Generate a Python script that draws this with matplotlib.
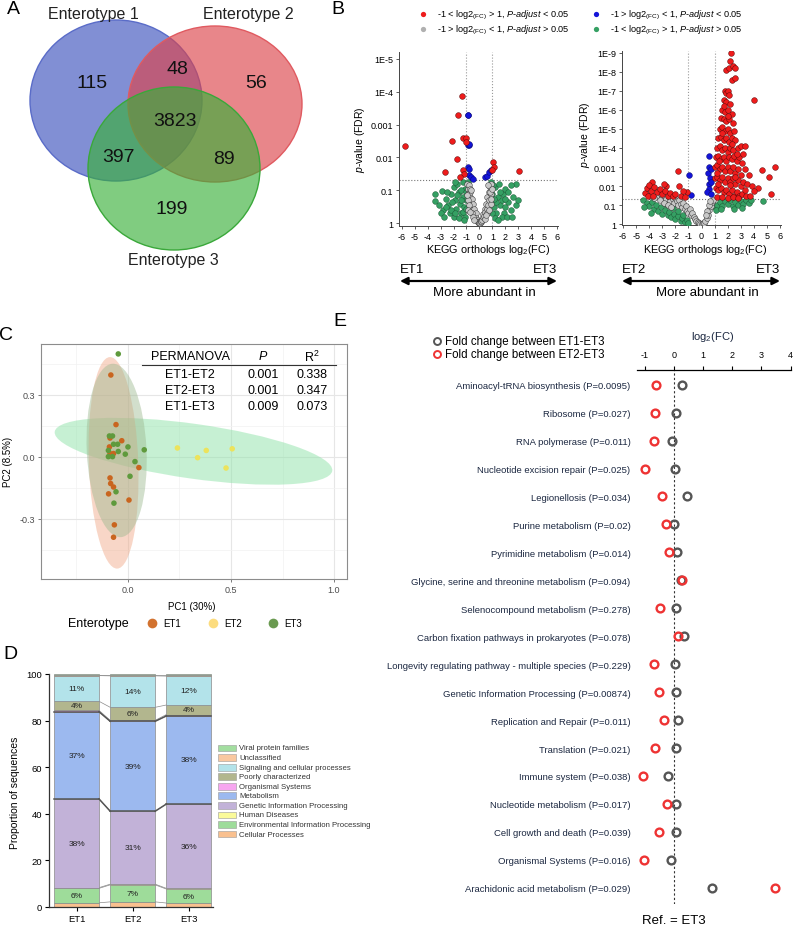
import numpy as np
import matplotlib
matplotlib.use("Agg")
import matplotlib.pyplot as plt
from matplotlib.patches import Ellipse, Rectangle

plt.rcParams['font.family'] = ['Liberation Sans', 'DejaVu Sans']
plt.rcParams['mathtext.fontset'] = 'custom'
plt.rcParams['mathtext.rm'] = 'Liberation Sans'
plt.rcParams['mathtext.it'] = 'Liberation Sans:italic'

# ---------------- data ----------------
# A: Venn counts
venn_sets = ["Enterotype 1", "Enterotype 2", "Enterotype 3"]
venn_regions = ["only1", "1&2", "only2", "all", "1&3", "2&3", "only3"]
venn_counts = [115, 48, 56, 3823, 397, 89, 199]

# B: volcano plots, (log2FC, -log10 p)
red_L = [(-5.76, 2.36), (-1.34, 3.87), (-1.69, 3.30), (-2.12, 2.50), (-1.24, 2.58), (-1.02, 2.58),
         (-1.05, 2.48), (-1.74, 1.94), (-2.63, 1.57), (-1.24, 1.62), (-1.16, 1.50), (-1.50, 1.42),
         (1.04, 1.85), (1.10, 1.72), (3.05, 1.58), (0.98, 1.62)]
blue_L = [(-0.86, 3.30), (-0.92, 3.28), (-0.90, 2.37), (-0.84, 2.37), (-0.80, 2.40), (-0.85, 1.72),
          (-0.80, 1.65), (-0.82, 1.47), (-0.65, 1.40), (-0.50, 1.35), (0.45, 1.42), (0.60, 1.45),
          (0.75, 1.55), (0.90, 1.62)]
green_L = [(-3.4, 0.9), (-3.4, 0.67), (-2.9, 0.98), (-2.6, 0.75), (-2.4, 0.55), (-2.2, 0.9), (-2.0, 1.1),
           (-1.9, 0.7), (-1.8, 0.45), (-1.7, 1.2), (-1.6, 0.95), (-1.5, 0.6), (-1.4, 0.3), (-1.3, 1.25),
           (-1.3, 0.8), (-1.2, 0.5), (-1.1, 1.05), (-1.1, 0.2), (-1.0, 0.7), (-0.9, 1.25), (-2.8, 0.4),
           (-3.0, 0.3), (-2.3, 0.3), (-2.0, 0.2), (-1.6, 0.15), (-2.6, 0.5), (-3.1, 0.55), (-1.9, 1.25),
           (-2.5, 0.95), (-2.1, 0.65), (-1.75, 0.85), (-1.45, 1.0), (-1.25, 0.35), (-1.0, 0.45),
           (-1.05, 0.95), (-2.2, 0.4), (-1.85, 0.3), (-1.4, 0.7), (-2.7, 0.2), (-1.2, 0.1),
           (0.9, 1.25), (1.0, 0.9), (1.1, 0.5), (1.2, 1.1), (1.3, 0.3), (1.4, 0.8), (1.5, 1.2), (1.6, 0.55),
           (1.8, 0.9), (1.9, 0.3), (2.0, 1.05), (2.2, 0.65), (2.4, 0.4), (2.6, 0.8), (2.8, 1.19), (2.8, 0.55),
           (2.4, 1.15), (1.7, 0.2), (2.1, 0.2), (1.2, 0.15), (3.0, 0.7), (1.0, 0.3), (1.05, 1.15),
           (1.3, 0.65), (1.55, 0.95), (1.75, 0.7), (1.95, 0.5), (2.2, 0.95), (2.5, 0.2), (1.45, 0.1),
           (2.0, 0.75), (1.1, 0.75)]
gray_L = [(-0.95, 1.2), (-0.9, 1.05), (-0.85, 0.9), (-0.8, 1.15), (-0.75, 0.8), (-0.7, 0.95), (-0.7, 0.65),
          (-0.65, 0.5), (-0.6, 0.75), (-0.55, 0.4), (-0.5, 0.6), (-0.45, 0.3), (-0.4, 0.45), (-0.35, 0.2),
          (-0.3, 0.3), (-0.25, 0.15), (-0.2, 0.1), (-0.15, 0.05), (-0.1, 0.03), (-0.05, 0.02), (0.0, 0.01),
          (0.05, 0.02), (0.1, 0.04), (0.15, 0.06), (0.2, 0.1), (0.25, 0.18), (0.3, 0.28), (0.35, 0.22),
          (0.4, 0.45), (0.45, 0.35), (0.5, 0.6), (0.55, 0.45), (0.6, 0.8), (0.65, 0.55), (0.7, 0.95),
          (0.75, 0.7), (0.8, 1.1), (0.85, 0.9), (0.9, 1.2), (-0.9, 0.7), (-0.8, 0.55), (0.85, 0.6),
          (-0.6, 0.3), (0.6, 0.3), (-0.95, 0.85), (-0.88, 0.4), (-0.75, 1.05), (-0.72, 0.35), (-0.62, 1.0),
          (-0.5, 0.2), (-0.42, 0.1), (0.45, 0.12), (0.52, 0.25), (0.7, 0.4), (0.78, 0.95), (0.92, 0.75),
          (0.68, 1.15), (0.95, 1.05)]

red_R = [(2.25, 9.0), (2.2, 8.6), (1.9, 8.1), (2.1, 8.2), (2.4, 8.3), (2.6, 8.2), (2.3, 7.6), (2.6, 7.7),
         (4.0, 6.5), (1.8, 7.0), (1.9, 6.9), (2.0, 7.0), (2.1, 6.8), (1.7, 6.5), (1.9, 6.4), (2.2, 6.3),
         (1.6, 6.0), (1.8, 5.9), (2.0, 6.0), (2.3, 5.8), (1.5, 5.6), (1.7, 5.5), (1.9, 5.4), (2.1, 5.5),
         (2.4, 5.3), (1.4, 5.0), (1.6, 5.1), (1.8, 4.9), (2.0, 5.0), (2.2, 4.8), (2.5, 4.9), (1.3, 4.5),
         (1.5, 4.6), (1.7, 4.4), (1.9, 4.5), (2.1, 4.3), (2.3, 4.5), (2.6, 4.4), (1.2, 4.0), (1.4, 4.1),
         (1.6, 3.9), (1.8, 4.0), (2.0, 3.8), (2.2, 4.0), (2.4, 3.9), (2.8, 4.0), (3.0, 4.1), (3.3, 4.1),
         (1.1, 3.5), (1.3, 3.6), (1.5, 3.4), (1.7, 3.5), (1.9, 3.3), (2.1, 3.5), (2.3, 3.4), (2.5, 3.6),
         (2.7, 3.3), (2.9, 3.5), (3.1, 3.2), (1.0, 3.0), (1.2, 3.1), (1.4, 2.9), (1.6, 3.0), (1.8, 2.8),
         (2.0, 3.0), (2.2, 2.8), (2.4, 3.0), (2.6, 2.7), (2.8, 2.9), (3.0, 2.6), (3.3, 2.9), (3.6, 2.6),
         (4.6, 2.86), (5.6, 3.0), (5.2, 2.5), (1.0, 2.4), (1.2, 2.5), (1.4, 2.3), (1.6, 2.5), (1.8, 2.2),
         (2.0, 2.4), (2.2, 2.2), (2.4, 2.4), (2.6, 2.1), (2.8, 2.3), (3.0, 2.0), (3.2, 2.2), (3.5, 2.1),
         (3.9, 2.0), (4.3, 1.9), (4.0, 1.75), (5.3, 1.6), (1.1, 1.9), (1.3, 1.8), (1.5, 1.9), (1.7, 1.7),
         (1.9, 1.8), (2.1, 1.6), (2.3, 1.8), (2.5, 1.5), (2.7, 1.7), (2.9, 1.5), (3.1, 1.6), (3.4, 1.45),
         (3.7, 1.5), (1.2, 1.4), (1.6, 1.4), (2.0, 1.35), (2.4, 1.4), (2.8, 1.35),
         (1.75, 6.2), (2.05, 5.7), (1.55, 4.8), (2.35, 4.2), (1.35, 3.3), (2.75, 3.7), (1.15, 2.7),
         (2.55, 2.5), (3.2, 3.7), (1.25, 2.1), (2.15, 2.05), (3.35, 1.8),
         (-1.8, 2.77), (-3.75, 2.2), (-2.7, 2.0), (-1.7, 2.0), (-1.1, 1.7), (-4.3, 1.65), (-4.2, 1.9),
         (-4.0, 2.05), (-3.9, 1.75), (-3.6, 1.95), (-3.4, 1.7), (-3.2, 1.85), (-3.0, 1.6), (-2.8, 1.75),
         (-2.6, 1.5), (-2.4, 1.65), (-2.2, 1.45), (-2.0, 1.6), (-1.6, 1.5), (-1.4, 1.75), (-4.1, 1.45),
         (-3.7, 1.45), (-2.9, 2.1), (-1.3, 1.4)]
blue_R = [(-0.96, 2.6), (-0.8, 1.55), (0.55, 3.6), (0.6, 3.0), (0.5, 2.7), (0.65, 2.4), (0.55, 2.1),
          (0.6, 1.85), (0.45, 1.7), (0.7, 1.6), (0.75, 2.2), (0.7, 2.9)]
green_R = [(-4.5, 1.25), (-4.2, 1.1), (-4.0, 0.95), (-3.8, 1.15), (-3.6, 0.8), (-3.5, 1.0), (-3.3, 0.7),
           (-3.1, 0.9), (-3.0, 0.55), (-2.8, 0.75), (-2.6, 0.45), (-2.5, 0.65), (-2.3, 0.35), (-2.1, 0.55),
           (-2.0, 0.25), (-1.8, 0.4), (-1.6, 0.15), (-1.5, 0.3), (-1.3, 0.1), (-1.1, 0.2), (-1.0, 0.05),
           (-2.7, 1.05), (-2.2, 0.85), (-1.8, 0.7), (-1.4, 0.5), (-4.4, 0.9), (-3.9, 0.6),
           (1.0, 0.9), (1.2, 1.0), (1.4, 1.15), (1.6, 0.95), (1.8, 1.2), (2.0, 1.05), (2.2, 1.25), (2.4, 0.95),
           (2.6, 1.15), (2.8, 1.0), (3.0, 1.2), (3.2, 1.05), (3.4, 1.25), (3.6, 1.1), (3.8, 1.25), (4.7, 1.2),
           (1.1, 0.75), (1.5, 0.8), (2.5, 0.8), (3.1, 0.85)]
gray_R = [(-4.0, 1.8), (-3.8, 1.6), (-3.7, 1.9), (-3.5, 1.7), (-3.4, 1.5), (-3.3, 1.8), (-3.1, 1.6),
          (-3.0, 1.4), (-2.9, 1.7), (-2.8, 1.5), (-2.7, 1.3), (-2.6, 1.6), (-2.5, 1.4), (-2.4, 1.2),
          (-2.3, 1.5), (-2.2, 1.3), (-2.1, 1.1), (-2.0, 1.35), (-1.9, 1.2), (-1.8, 1.0), (-1.7, 1.25),
          (-1.6, 1.05), (-1.5, 0.9), (-1.4, 1.1), (-1.3, 0.8), (-1.2, 0.95), (-1.1, 0.7), (-1.0, 0.6),
          (-0.9, 0.8), (-0.8, 0.5), (-0.7, 0.6), (-0.6, 0.35), (-0.5, 0.25), (-0.4, 0.15), (-0.3, 0.1),
          (-0.2, 0.05), (-0.1, 0.02), (0.0, 0.01), (0.1, 0.03), (0.2, 0.07), (0.3, 0.15), (0.4, 0.3),
          (0.5, 0.5), (0.6, 0.75), (0.7, 0.95), (0.8, 1.15), (0.9, 1.25), (0.45, 0.7), (0.55, 1.0),
          (0.65, 1.2), (0.35, 0.45), (-3.6, 1.35), (-3.2, 1.25), (-2.9, 1.1), (-2.6, 1.0), (-2.3, 0.9),
          (-3.9, 1.45)]

# C: PCoA
et1_pc = [(-0.083, 0.395), (-0.058, 0.155), (-0.087, 0.09), (-0.03, 0.077), (-0.09, 0.047), (-0.087, 0.015),
          (-0.07, 0.015), (0.053, -0.053), (-0.087, -0.103), (-0.084, -0.13), (-0.07, -0.147), (-0.094, -0.18),
          (0.005, -0.21), (-0.066, -0.33), (-0.07, -0.39)]
et2_pc = [(0.24, 0.042), (0.338, -0.005), (0.38, 0.03), (0.506, 0.038), (0.476, -0.055)]
et3_pc = [(-0.047, 0.497), (-0.09, 0.1), (-0.075, 0.1), (-0.07, 0.06), (-0.095, 0.03), (-0.05, 0.06),
          (0.0, 0.047), (-0.047, 0.025), (-0.013, 0.012), (-0.095, 0.0), (-0.075, 0.0), (0.079, 0.033),
          (0.034, -0.024), (0.01, -0.095), (-0.058, -0.17), (-0.068, -0.225)]
perm_pairs = ["ET1-ET2", "ET2-ET3", "ET1-ET3"]
perm_p = ["0.001", "0.001", "0.009"]
perm_r2 = ["0.338", "0.347", "0.073"]

# D: stacked proportions (bottom -> top)
cats = ["Cellular Processes", "Environmental Information Processing", "Human Diseases",
        "Genetic Information Processing", "Metabolism", "Organismal Systems", "Poorly characterized",
        "Signaling and cellular processes", "Unclassified", "Viral protein families"]
cat_cols = ['#f9c08f', '#9edc9a', '#fbfb9a', '#c2b2d8', '#9cb9ef', '#f7a6f0', '#b2b68e',
            '#b3e3ea', '#f9c8a0', '#a3dea0']
groups = ["ET1", "ET2", "ET3"]
props = {
    "ET1": [1.8, 6.2, 0.3, 38.1, 37.4, 0.6, 3.9, 11.0, 0.3, 0.4],
    "ET2": [2.2, 7.3, 0.3, 31.3, 38.6, 0.4, 5.6, 13.5, 0.4, 0.4],
    "ET3": [1.7, 6.0, 0.3, 36.2, 37.8, 0.6, 4.1, 12.4, 0.5, 0.4],
}
labelled = [1, 3, 4, 6, 7]

# E: fold changes
pathways = ["Aminoacyl-tRNA biosynthesis (P=0.0095)", "Ribosome (P=0.027)", "RNA polymerase (P=0.011)",
            "Nucleotide excision repair (P=0.025)", "Legionellosis (P=0.034)", "Purine metabolism (P=0.02)",
            "Pyrimidine metabolism (P=0.014)", "Glycine, serine and threonine metabolism (P=0.094)",
            "Selenocompound metabolism (P=0.278)", "Carbon fixation pathways in prokaryotes (P=0.078)",
            "Longevity regulating pathway - multiple species (P=0.229)",
            "Genetic Information Processing (P=0.00874)", "Replication and Repair (P=0.011)",
            "Translation (P=0.021)", "Immune system (P=0.038)", "Nucleotide metabolism (P=0.017)",
            "Cell growth and death (P=0.039)", "Organismal Systems (P=0.016)",
            "Arachidonic acid metabolism (P=0.029)"]
fc_et1 = [0.28, 0.06, -0.05, 0.03, 0.45, 0.01, 0.11, 0.25, 0.09, 0.34, 0.03, 0.08, 0.15, 0.07, -0.19,
          0.06, 0.07, -0.09, 1.30]
fc_et2 = [-0.61, -0.65, -0.68, -0.99, -0.42, -0.28, -0.16, 0.27, -0.47, 0.16, -0.69, -0.52, -0.33,
          -0.64, -1.04, -0.24, -0.49, -1.01, 3.45]

# ---------------- figure ----------------
W, H = 794, 928
fig = plt.figure(figsize=(W / 100, H / 100), dpi=100)


def pax(x0, y0, x1, y1):
    return fig.add_axes([x0 / W, 1 - y1 / H, (x1 - x0) / W, (y1 - y0) / H])


ov = fig.add_axes([0, 0, 1, 1])
ov.set_xlim(0, W)
ov.set_ylim(H, 0)
ov.axis('off')
ov.set_zorder(10)
ov.patch.set_alpha(0)


def T(x, y, s, size=8, **kw):
    kw.setdefault('ha', 'center')
    kw.setdefault('va', 'center')
    ov.text(x, y, s, fontsize=size, **kw)


# panel letters
for lab, x, y in [("A", 13, 10), ("B", 338, 10), ("C", 6, 336), ("D", 10, 655), ("E", 340, 322)]:
    T(x, y, lab, size=14)

# ---- A: Venn ----
shapes = [((116, 101.5), 172, 161, '#3a50bc', '#5a6cc8'),
          ((215, 105), 174, 156, '#dc4249', '#e05a60'),
          ((174, 169.5), 172, 163, '#38b038', '#3aa83a')]
for (c, w, h, fc, ec) in shapes:
    ov.add_patch(Ellipse(c, w, h, facecolor=fc, alpha=0.64, edgecolor='none'))
    ov.add_patch(Ellipse(c, w, h, facecolor='none', edgecolor=ec, lw=1.0))
set_pos = [(93, 15), (248, 15), (173, 261)]
for s, (x, y) in zip(venn_sets, set_pos):
    T(x, y, s, size=11.5, color='#222222')
region_pos = [(92, 83), (177, 69), (256, 83), (175, 122), (118, 158), (224, 160), (172, 210)]
for n, (x, y) in zip(venn_counts, region_pos):
    T(x, y, str(n), size=14, color='#111111')


# ---- B: volcano ----
def volcano(ax, red, blue, green, gray, ylim, xlim, ylabels):
    for pts, col, ec in [(green, '#35a063', '#1d5a37'), (gray, '#c8c8c8', '#333333'),
                         (blue, '#1414d8', '#0a0a70'), (red, '#ee1c1c', '#5a0a0a')]:
        a = np.array(pts)
        ax.scatter(a[:, 0], a[:, 1], s=17, c=col, edgecolors=ec, linewidths=0.35, zorder=3)
    ax.axvline(-1, color='#9a9a9a', ls=':', lw=0.8, zorder=1)
    ax.axvline(1, color='#9a9a9a', ls=':', lw=0.8, zorder=1)
    ax.axhline(-np.log10(0.05), color='#777777', ls=':', lw=0.8, zorder=1)
    ax.set_xlim(*xlim)
    ax.set_ylim(*ylim)
    ax.set_xticks(range(-6, 7))
    ax.set_xticklabels([str(v) for v in range(-6, 7)], fontsize=6.5)
    ax.set_yticks(range(len(ylabels)))
    ax.set_yticklabels(ylabels, fontsize=6.5)
    ax.tick_params(length=2.5, width=0.6, pad=1.5, color='#444444')
    for sp in ['top', 'right']:
        ax.spines[sp].set_visible(False)
    for sp in ['left', 'bottom']:
        ax.spines[sp].set_linewidth(0.7)
        ax.spines[sp].set_color('#444444')


axL = pax(399, 53, 558, 227)
volcano(axL, red_L, blue_L, green_L, gray_L, (-0.08, 5.2), (-6.2, 6.05),
        ['1', '0.1', '0.01', '0.001', '1E-4', '1E-5'])
axR = pax(622, 52, 781, 226)
volcano(axR, red_R, blue_R, green_R, gray_R, (-0.05, 9.1), (-6.08, 6.08),
        ['1', '0.1', '0.01', '0.001', '1E-4', '1E-5', '1E-6', '1E-7', '1E-8', '1E-9'])

T(360, 140, r'$p$-value (FDR)', size=7.5, rotation=90)
T(585, 135, r'$p$-value (FDR)', size=7.5, rotation=90)
T(488, 250, r'KEGG orthologs log$_2$(FC)', size=7.8)
T(705, 250, r'KEGG orthologs log$_2$(FC)', size=7.8)
for (x0, x1, a, b) in [(400, 557, "ET1", "ET3"), (622, 780, "ET2", "ET3")]:
    T(x0, 270, a, size=9.5, ha='left')
    T(x1, 270, b, size=9.5, ha='right')
    ov.annotate('', xy=(x0, 282), xytext=(x1, 282),
                arrowprops=dict(arrowstyle='<|-|>', lw=1.6, color='k', mutation_scale=11,
                                shrinkA=0, shrinkB=0))
    T((x0 + x1) / 2 + 6, 293, "More abundant in", size=9.5)

leg_B = [(423, 15, '#ee1c1c', r'-1 < log2$_{\rm (FC)}$ > 1, $P$-$adjust$ < 0.05'),
         (596, 15, '#1414d8', r'-1 > log2$_{\rm (FC)}$ < 1, $P$-$adjust$ < 0.05'),
         (423, 30, '#b0b0b0', r'-1 > log2$_{\rm (FC)}$ < 1, $P$-$adjust$ > 0.05'),
         (596, 30, '#35a063', r'-1 < log2$_{\rm (FC)}$ > 1, $P$-$adjust$ > 0.05')]
for x, y, c, s in leg_B:
    ov.plot(x, y, 'o', ms=3.8, color=c, mec='none')
    T(x + 14, y, s, size=6.6, ha='left')

# ---- C: PCoA ----
axC = pax(41, 345, 347, 580)
axC.set_xlim(-0.422, 1.063)
axC.set_ylim(-0.592, 0.545)
for v in [-0.25, 0.25, 0.75]:
    axC.axvline(v, color='#f2f2f2', lw=0.5, zorder=0)
for v in [0.0, 0.5, 1.0]:
    axC.axvline(v, color='#e6e6e6', lw=0.8, zorder=0)
for v in [-0.45, -0.15, 0.15, 0.45]:
    axC.axhline(v, color='#f2f2f2', lw=0.5, zorder=0)
for v in [-0.3, 0.0, 0.3]:
    axC.axhline(v, color='#e6e6e6', lw=0.8, zorder=0)
axC.add_patch(Ellipse((0.318, 0.026), 1.36, 0.265, angle=-8, facecolor='#8fe3a9', alpha=0.5,
                      edgecolor='none', zorder=1))
axC.add_patch(Ellipse((-0.07, -0.03), 0.24, 1.024, angle=2, facecolor='#f0a683', alpha=0.45,
                      edgecolor='none', zorder=1))
axC.add_patch(Ellipse((-0.055, 0.03), 0.29, 0.84, angle=2.7, facecolor='#9cb88f', alpha=0.45,
                      edgecolor='none', zorder=1))
for pts, col in [(et1_pc, '#c9651f'), (et2_pc, '#ece35c'), (et3_pc, '#5f9a3d')]:
    a = np.array(pts)
    axC.scatter(a[:, 0], a[:, 1], s=16, c=col, edgecolors='none', zorder=3)
axC.set_xticks([0.0, 0.5, 1.0])
axC.set_xticklabels(['0.0', '0.5', '1.0'])
axC.set_yticks([-0.3, 0.0, 0.3])
axC.set_yticklabels(['-0.3', '0.0', '0.3'])
axC.tick_params(labelsize=6.5, labelcolor='#4d4d4d', length=2, width=0.6, color='#666666', pad=2)
for sp in axC.spines.values():
    sp.set_color('#8c8c8c')
    sp.set_linewidth(0.8)
T(8, 462, 'PC2 (8.5%)', size=7, rotation=90)
T(192, 607, 'PC1 (30%)', size=7)
T(98, 624, 'Enterotype', size=9)
for x, g, c in [(152, 'ET1', '#d2722f'), (213, 'ET2', '#fcdc7e'), (273, 'ET3', '#6a9a50')]:
    ov.plot(x, 624, 'o', ms=7, color=c, mec='none')
    T(x + 11, 624, g, size=7, ha='left')

# PERMANOVA table
cols_x = [190, 263, 312]
T(cols_x[0], 357, 'PERMANOVA', size=9)
T(cols_x[1], 357, r'$P$', size=9)
T(cols_x[2], 357, r'R$^2$', size=9)
ov.plot([142, 336], [366, 366], color='#333333', lw=0.8)
for i, (a, b, c) in enumerate(zip(perm_pairs, perm_p, perm_r2)):
    y = 375 + 16 * i
    T(cols_x[0], y, a, size=9)
    T(cols_x[1], y, b, size=9)
    T(cols_x[2], y, c, size=9)

# ---- D: stacked bars ----
axD = pax(49, 675, 213, 908)
xpos = np.arange(len(groups))
bw = 0.8
cum = {}
for g in groups:
    cum[g] = np.concatenate([[0], np.cumsum(props[g])])
for j, (cat, col) in enumerate(zip(cats, cat_cols)):
    bottoms = [cum[g][j] for g in groups]
    heights = [props[g][j] for g in groups]
    axD.bar(xpos, heights, bw, bottom=bottoms, color=col, edgecolor='#8a8a8a', lw=0.5, zorder=2)
    for i, g in enumerate(groups):
        if j in labelled:
            axD.text(xpos[i], bottoms[i] + heights[i] / 2, f"{round(heights[i])}%", fontsize=6,
                     ha='center', va='center', color='#222222', zorder=4)
for j in range(1, len(cats)):
    for i in range(len(groups) - 1):
        axD.plot([xpos[i] + bw / 2, xpos[i + 1] - bw / 2], [cum[groups[i]][j], cum[groups[i + 1]][j]],
                 color='#8a8a8a', lw=0.5, zorder=1)
for j in [4, 5]:
    for i in range(len(groups)):
        axD.plot([xpos[i] - bw / 2, xpos[i] + bw / 2], [cum[groups[i]][j]] * 2, color='#555555', lw=1.1,
                 zorder=3)
    for i in range(len(groups) - 1):
        axD.plot([xpos[i] + bw / 2, xpos[i + 1] - bw / 2], [cum[groups[i]][j], cum[groups[i + 1]][j]],
                 color='#555555', lw=1.1, zorder=3)
axD.set_xlim(-0.49, 2.43)
axD.set_ylim(0, 100)
axD.set_xticks(xpos)
axD.set_xticklabels(groups)
axD.set_yticks([0, 20, 40, 60, 80, 100])
axD.tick_params(labelsize=6.8, length=3, width=0.8, pad=2)
for sp in ['top', 'right']:
    axD.spines[sp].set_visible(False)
for sp in ['left', 'bottom']:
    axD.spines[sp].set_linewidth(0.9)
    axD.spines[sp].set_color('#333333')
T(15, 793, 'Proportion of sequences', size=7.5, rotation=90)
for k, j in enumerate(range(len(cats) - 1, -1, -1)):
    y = 749 + 9.56 * k
    ov.add_patch(Rectangle((218, y - 3.4), 18, 6.8, facecolor=cat_cols[j], edgecolor='#9a9a9a', lw=0.4))
    T(239, y, cats[j], size=5.55, ha='left', color='#333333')

# ---- E: fold change dot plot ----
axE = pax(636.7, 371, 790.7, 905)
rows = np.arange(len(pathways))
axE.plot(fc_et1, rows, 'o', ls='none', ms=5.6, mfc='none', mec='#555555', mew=1.7, zorder=3)
axE.plot(fc_et2, rows, 'o', ls='none', ms=5.6, mfc='none', mec='#ee3333', mew=1.7, zorder=4)
axE.axvline(0, color='#333333', ls=(0, (2, 2)), lw=0.8, zorder=1)
axE.set_xlim(-1.27, 4.0)
axE.set_ylim(18.58, -0.526)
axE.xaxis.tick_top()
axE.set_xticks(range(-1, 5))
axE.set_xticklabels([str(v) for v in range(-1, 5)])
axE.tick_params(axis='x', labelsize=6.5, length=3, width=0.8, pad=5)
axE.set_yticks(rows)
axE.set_yticklabels(pathways, fontsize=6.8, color='#1c2841')
axE.tick_params(axis='y', length=0, pad=4.4)
for sp in ['bottom', 'right', 'left']:
    axE.spines[sp].set_visible(False)
axE.spines['top'].set_linewidth(0.9)
T(713, 337, r'log$_2$(FC)', size=8, color='#1c2841')
T(674, 921, 'Ref. = ET3', size=9.5)
ov.plot(437, 342, 'o', ms=5, mfc='none', mec='#555555', mew=1.4)
ov.plot(437, 355, 'o', ms=5, mfc='none', mec='#ee3333', mew=1.4)
T(445, 342, 'Fold change between ET1-ET3', size=8.3, ha='left')
T(445, 355, 'Fold change between ET2-ET3', size=8.3, ha='left')

fig.savefig("out.png", dpi=100)
